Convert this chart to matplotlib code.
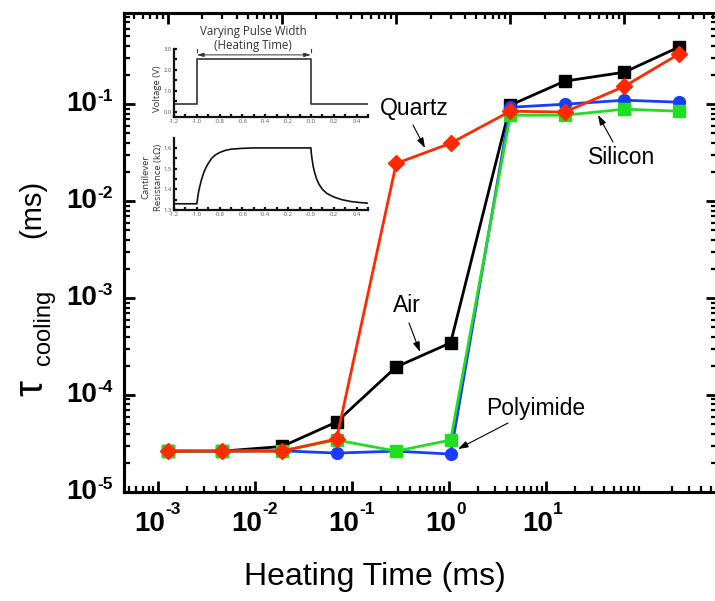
import numpy as np
import matplotlib
matplotlib.use("Agg")
import matplotlib.pyplot as plt
import matplotlib.transforms as mtransforms
from matplotlib.ticker import LogLocator, NullFormatter, FixedLocator, MultipleLocator

# ---------------- data ----------------
heating_time = [1e-3, 3e-3, 1e-2, 3e-2, 0.1, 0.3, 1, 3, 10, 30]
tau_air = [2.64e-5, 2.64e-5, 2.95e-5, 5.27e-5, 1.95e-4, 3.46e-4, 0.0977, 0.173, 0.214, 0.388]
tau_quartz = [2.64e-5, 2.64e-5, 2.64e-5, 3.52e-5, 0.0245, 0.0396, 0.0847, 0.083, 0.153, 0.329]
tau_silicon_blue = [2.64e-5, 2.64e-5, 2.66e-5, 2.52e-5, 2.64e-5, 2.46e-5, 0.093, 0.100, 0.110, 0.105]
tau_polyimide_green = [2.64e-5, 2.64e-5, 2.66e-5, 3.44e-5, 2.64e-5, 3.44e-5, 0.077, 0.077, 0.089, 0.0847]

x_ticks = [1e-3, 1e-2, 1e-1, 1e0, 1e1]
x_tick_exps = ["-3", "-2", "-1", "0", "1"]
y_ticks = [1e-5, 1e-4, 1e-3, 1e-2, 1e-1]
y_tick_exps = ["-5", "-4", "-3", "-2", "-1"]

# inset schematic
pulse_t = [-1.2, -1.0, -1.0, 0.0, 0.0, 0.5]
pulse_v = [0.4, 0.4, 2.5, 2.5, 0.4, 0.4]
res_t = [-1.2, -1.0, -0.99, -0.98, -0.96, -0.94, -0.92, -0.90, -0.87, -0.84, -0.80, -0.75, -0.70,
         -0.60, -0.50, 0.0, 0.003, 0.01, 0.02, 0.035, 0.05, 0.07, 0.10, 0.14, 0.20, 0.27, 0.35, 0.43, 0.5]
res_r = [1.33, 1.33, 1.37, 1.40, 1.445, 1.48, 1.505, 1.525, 1.55, 1.565, 1.578, 1.588, 1.594,
         1.598, 1.60, 1.60, 1.575, 1.545, 1.51, 1.475, 1.45, 1.425, 1.40, 1.38, 1.363, 1.350, 1.341, 1.336, 1.333]

# ---------------- style ----------------
plt.rcParams["font.family"] = ["Liberation Sans", "DejaVu Sans"]

fig = plt.figure(figsize=(7.15, 6.01), dpi=100)
L, R, T, B = 124, 717, 13, 492
W, H = 715, 601
ax = fig.add_axes([L / W, 1 - B / H, (R - L) / W, (B - T) / H])

ax.set_xscale("log")
ax.set_yscale("log")
ax.set_xlim(4.47e-4, 5.8e2)
ax.set_ylim(1e-5, 0.873)

for s in ax.spines.values():
    s.set_linewidth(2.2)

ax.xaxis.set_major_locator(FixedLocator(x_ticks))
ax.yaxis.set_major_locator(FixedLocator(y_ticks))
ax.xaxis.set_minor_locator(LogLocator(base=10, subs=np.arange(2, 10), numticks=20))
ax.yaxis.set_minor_locator(LogLocator(base=10, subs=np.arange(2, 10), numticks=20))
ax.xaxis.set_major_formatter(NullFormatter())
ax.yaxis.set_major_formatter(NullFormatter())
ax.xaxis.set_minor_formatter(NullFormatter())
ax.yaxis.set_minor_formatter(NullFormatter())
ax.tick_params(which="major", direction="in", length=8, width=2, right=True)
ax.tick_params(which="minor", direction="in", length=4.5, width=1.6, right=True)

# tick labels: "10" plus small bold exponent
bx = mtransforms.blended_transform_factory(ax.transData, ax.transAxes)
by = mtransforms.blended_transform_factory(ax.transAxes, ax.transData)
for t, e in zip(x_ticks, x_tick_exps):
    ax.text(t, 0, "10", transform=mtransforms.offset_copy(bx, fig, x=7, y=-19, units="dots"),
            ha="right", va="top", fontsize=20, fontweight="bold")
    ax.text(t, 0, e, transform=mtransforms.offset_copy(bx, fig, x=7, y=-10, units="dots"),
            ha="left", va="top", fontsize=12.5, fontweight="bold")
for t, e in zip(y_ticks, y_tick_exps):
    ax.text(0, t, "10", transform=mtransforms.offset_copy(by, fig, x=-27, y=0, units="dots"),
            ha="right", va="center", fontsize=20, fontweight="bold")
    ax.text(0, t, e, transform=mtransforms.offset_copy(by, fig, x=-27, y=3, units="dots"),
            ha="left", va="baseline", fontsize=12.5, fontweight="bold")

# top axis: its own log scale, which the data follow in the reference
ax2 = ax.twiny()
ax2.set_xscale("log")
ax2.set_xlim(10 ** (-3.386), 10 ** 1.812)
ax2.xaxis.set_major_locator(LogLocator(base=10, numticks=20))
ax2.xaxis.set_minor_locator(LogLocator(base=10, subs=np.arange(2, 10), numticks=20))
ax2.xaxis.set_major_formatter(NullFormatter())
ax2.xaxis.set_minor_formatter(NullFormatter())
ax2.tick_params(which="major", direction="in", length=8, width=2)
ax2.tick_params(which="minor", direction="in", length=4.5, width=1.6)
for s in ax2.spines.values():
    s.set_linewidth(2.2)

C_BLACK = "#000000"
C_RED = "#ff2a00"
C_BLUE = "#1a3cff"
C_GREEN = "#22dd22"

ax2.plot(heating_time, tau_air, color=C_BLACK, lw=2, marker="s", ms=8, zorder=3)
ax2.plot(heating_time, tau_silicon_blue, color=C_BLUE, lw=2, marker="o", ms=8.5, zorder=4)
ax2.plot(heating_time, tau_polyimide_green, color=C_GREEN, lw=2, marker="s", ms=8, zorder=5)
ax2.plot(heating_time, tau_quartz, color=C_RED, lw=2, marker="D", ms=8.5, zorder=6)

# axis labels
fig.text(375 / W, 1 - 577 / H, "Heating Time (ms)", fontsize=23, ha="center", va="center")
fig.text(31 / W, 1 - 388 / H, "\u03c4", fontsize=29, rotation=90, ha="center", va="center")
fig.text(44 / W, 1 - 327 / H, "cooling", fontsize=17, rotation=90, ha="center", va="center")
fig.text(32 / W, 1 - 209 / H, "(ms)", fontsize=21, rotation=90, ha="center", va="center")

# annotations (axes-fraction positions from pixels)
def af(px, py):
    return ((px - L) / (R - L), (B - py) / (B - T))

arrow_kw = dict(arrowstyle="-|>,head_length=0.6,head_width=0.2", color="black", lw=0.8,
                shrinkA=0, shrinkB=0)
labels = [("Quartz", (414, 108), (413, 125), (425, 148)),
          ("Silicon", (622, 158), (613, 142), (598, 115)),
          ("Air", (407, 306), (409, 323), (420, 352)),
          ("Polyimide", (536, 408), (508, 423), (458, 449))]
for txt, tp, tail, head in labels:
    ax.text(*af(*tp), txt, transform=ax.transAxes, fontsize=16.5, ha="center", va="center")
    ax.annotate("", xy=af(*head), xytext=af(*tail), xycoords="axes fraction",
                textcoords="axes fraction", arrowprops=arrow_kw)

# ---------------- inset ----------------
ins_font = ["Open Sans", "DejaVu Sans"]
gray = "#333333"
x0, x1 = 174, 368
axv = fig.add_axes([x0 / W, 1 - 117 / H, (x1 - x0) / W, 68 / H])
axr = fig.add_axes([x0 / W, 1 - 210 / H, (x1 - x0) / W, 72 / H])
xt = np.round(np.arange(-1.2, 0.41, 0.2), 1)
for a in (axv, axr):
    a.set_xlim(-1.2, 0.5)
    a.spines["top"].set_visible(False)
    a.spines["right"].set_visible(False)
    for s in ("left", "bottom"):
        a.spines[s].set_linewidth(1.6)
        a.spines[s].set_color("#111111")
    a.set_xticks(xt)
    a.set_xticklabels(["%.1f" % v for v in xt], family=ins_font)
    a.xaxis.set_minor_locator(MultipleLocator(0.1))
    a.tick_params(which="both", direction="in", length=2.2, width=1.6, color="#111111",
                  labelsize=4.2, labelcolor="#555555", pad=1.5)
    a.patch.set_alpha(0)

axv.set_ylim(-0.24, 3.0)
axv.set_yticks([0, 1, 2, 3])
axv.set_yticklabels(["0.0", "1.0", "2.0", "3.0"], family=ins_font)
axv.yaxis.set_minor_locator(MultipleLocator(0.5))
axv.plot(pulse_t, pulse_v, color=gray, lw=1.2)
axv.annotate("", xy=(0.0, 2.72), xytext=(-1.0, 2.72),
             arrowprops=dict(arrowstyle="<|-|>,head_length=0.4,head_width=0.12", color=gray,
                             lw=0.7, shrinkA=0, shrinkB=0))
for xx in (-1.0, 0.0):
    axv.plot([xx, xx], [2.88, 3.02], color=gray, lw=0.8, clip_on=False)

axr.set_ylim(1.3, 1.648)
axr.set_yticks([1.3, 1.4, 1.5, 1.6])
axr.set_yticklabels(["1.3", "1.4", "1.5", "1.6"], family=ins_font)
axr.yaxis.set_minor_locator(MultipleLocator(0.05))
axr.plot(res_t, res_r, color="#111111", lw=1.2)

fig.text(253 / W, 1 - 31 / H, "Varying Pulse Width", fontsize=8.3, family=ins_font,
         color=gray, ha="center", va="center")
fig.text(253 / W, 1 - 45 / H, "(Heating Time)", fontsize=8.3, family=ins_font,
         color=gray, ha="center", va="center")
fig.text(158 / W, 1 - 89 / H, "Voltage (V)", fontsize=6.8, family=ins_font, color=gray,
         rotation=90, ha="center", va="center")
fig.text(146 / W, 1 - 177 / H, "Cantilever", fontsize=6.8, family=ins_font, color=gray,
         rotation=90, ha="center", va="center")
fig.text(159 / W, 1 - 177 / H, "Resistance (k\u03a9)", fontsize=6.8, family=ins_font, color=gray,
         rotation=90, ha="center", va="center")

fig.savefig("out.png", dpi=100)
